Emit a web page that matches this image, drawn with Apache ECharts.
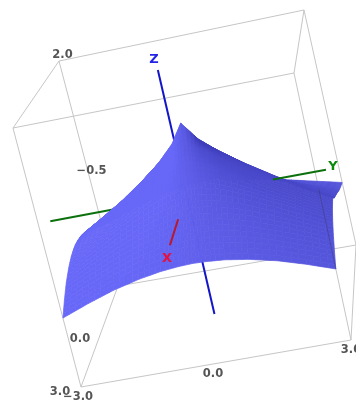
<!DOCTYPE html>
<html>
<head>
<meta charset="utf-8">
<style>html,body{margin:0;background:#fff}#main{width:356px;height:404px}</style>
<script src="https://cdn.jsdelivr.net/npm/echarts@6/dist/echarts.min.js"></script>
</head>
<body>
<div id="main"></div>
<script>
// grid the surface was read on
var xValues = [-3, -2.4, -1.8, -1.2, -0.7, -0.3, 0, 0.3, 0.7, 1.2, 1.8, 2.4, 3];
var yValues = [-3, -2.4, -1.8, -1.2, -0.7, -0.3, 0, 0.3, 0.7, 1.2, 1.8, 2.4, 3];
var zRows = [
  [-1.67,-1.49,-1.33,-1.21,-1.14,-1.11,-1.10,-1.20,-1.25,-1.32,-1.43,-1.55,-1.67],
  [-1.49,-1.29,-1.10,-0.94,-0.85,-0.81,-0.80,-0.95,-1.02,-1.12,-1.28,-1.45,-1.58],
  [-1.33,-1.10,-0.88,-0.68,-0.56,-0.50,-0.48,-0.62,-0.70,-0.86,-1.08,-1.30,-1.48],
  [-1.21,-0.94,-0.68,-0.43,-0.25,-0.16,-0.13,-0.24,-0.36,-0.60,-0.88,-1.14,-1.36],
  [-1.14,-0.85,-0.56,-0.25, 0.00, 0.15, 0.19, 0.10,-0.08,-0.38,-0.72,-1.02,-1.27],
  [-1.11,-0.81,-0.50,-0.16, 0.15, 0.40, 0.51, 0.37, 0.10,-0.24,-0.60,-0.92,-1.20],
  [-1.10,-0.80,-0.48,-0.13, 0.19, 0.51, 0.88, 0.51, 0.19,-0.13,-0.48,-0.80,-1.10],
  [-1.11,-0.81,-0.50,-0.16, 0.15, 0.40, 0.51, 0.40, 0.15,-0.16,-0.50,-0.81,-1.11],
  [-1.14,-0.85,-0.56,-0.25, 0.00, 0.15, 0.19, 0.15, 0.00,-0.25,-0.56,-0.85,-1.14],
  [-1.21,-0.94,-0.68,-0.43,-0.25,-0.16,-0.13,-0.16,-0.25,-0.43,-0.68,-0.94,-1.21],
  [-1.33,-1.10,-0.88,-0.68,-0.56,-0.50,-0.48,-0.50,-0.56,-0.68,-0.88,-1.10,-1.33],
  [-1.49,-1.29,-1.10,-0.94,-0.85,-0.81,-0.80,-0.81,-0.85,-0.94,-1.10,-1.29,-1.49],
  [-1.67,-1.49,-1.33,-1.21,-1.14,-1.11,-1.10,-1.11,-1.14,-1.21,-1.33,-1.49,-1.67]
];
var xRange = [-3, 3], yRange = [-3, 3], zRange = [-3, 2];

// box edges, everything below is in data units
var backEdges = [
  [[-3,-3,2],[-3,3,2]], [[3,-3,2],[3,3,2]], [[-3,-3,2],[3,-3,2]], [[-3,3,2],[3,3,2]],
  [[-3,-3,2],[-3,-3,-3]], [[-3,3,2],[-3,3,-3]], [[3,-3,2],[3,-3,-3]], [[3,3,2],[3,3,-3]],
  [[-3,3,-3],[3,3,-3]], [[-3,-3,-3],[-3,3,-3]], [[3,-3,-3],[3,3,-3]], [[-3,-3,-3],[3,-3,-3]]
];
var overSurfaceEdges = [[[3,3,-0.17],[3,3,-1.67]]];
var zAxisLine = [[0,-0.22,2],[0,-0.27,-2.95]];
var yAxisLeft = [[0,-3.42,-0.55],[0,-1.5,-0.55]];
var yAxisRight = [[0,1.75,-0.55],[0,2.98,-0.55]];
var xAxisLine = [[1.7,-0.28,-0.55],[3.6,-0.28,-0.55]];

var tickLabels = [
  {text:'2.0', at:[-3,-3,2], off:[3.5,-6]},
  {text:'\u22120.5', at:[-3,-3,-0.5], off:[3,-2.5]},
  {text:'\u22123.0', at:[-3,-3,-3], off:[-21,4]},
  {text:'\u22123.0', at:[-3,-3,-3], off:[-1,-5]},
  {text:'0.0', at:[0,-3,-3], off:[-19.5,3]},
  {text:'3.0', at:[3,-3,-3], off:[-21,5]},
  {text:'\u22123.0', at:[3,-3,-3], off:[-3,10]},
  {text:'0.0', at:[3,0,-3], off:[-3,10.5]},
  {text:'3.0', at:[3,3,-3], off:[0,10]}
];
var axisNames = [
  {text:'Z', at:[0,-0.22,2], off:[-4,-10], color:'#2424e8'},
  {text:'Y', at:[0,2.98,-0.55], off:[7,-3], color:'#0a8a0a'},
  {text:'X', at:[3.6,-0.28,-0.55], off:[-3,13], color:'#e8103c'}
];

// where the box corners land in the 356x404 window
var cornerPx = {
  '-3,-3,2':[59,61], '-3,3,2':[304,10], '3,-3,2':[13,128], '3,3,2':[294,73],
  '-3,-3,-3':[118,286], '-3,3,-3':[356,245], '3,-3,-3':[81,387], '3,3,-3':[351,340]
};
var cellSplit = 4;

function project(p) {
  var u = (p[0] - xRange[0]) / (xRange[1] - xRange[0]);
  var v = (p[1] - yRange[0]) / (yRange[1] - yRange[0]);
  var w = (p[2] - zRange[0]) / (zRange[1] - zRange[0]);
  var out = [0, 0];
  [[-3,1-u],[3,u]].forEach(function (a) {
    [[-3,1-v],[3,v]].forEach(function (b) {
      [[-3,1-w],[2,w]].forEach(function (c) {
        var k = a[1] * b[1] * c[1], px = cornerPx[a[0] + ',' + b[0] + ',' + c[0]];
        out[0] += k * px[0];
        out[1] += k * px[1];
      });
    });
  });
  return out;
}

// light at each grid point, from the slopes of its neighbours
function pointShade(i, j) {
  var i0 = Math.max(i - 1, 0), i1 = Math.min(i + 1, xValues.length - 1);
  var j0 = Math.max(j - 1, 0), j1 = Math.min(j + 1, yValues.length - 1);
  var dzdx = (zRows[i1][j] - zRows[i0][j]) / (xValues[i1] - xValues[i0]);
  var dzdy = (zRows[i][j1] - zRows[i][j0]) / (yValues[j1] - yValues[j0]);
  return (-dzdx * 0.25 + dzdy * 0.6 + 0.75) / Math.sqrt(dzdx * dzdx + dzdy * dzdy + 1);
}

function shadeColor(s) {
  var t = Math.max(0, Math.min(1, (s - 0.2) / 0.7));
  var r = Math.round(62 + t * 42), b = Math.round(186 + t * 62);
  return 'rgb(' + r + ',' + r + ',' + b + ')';
}

function bilinear(a, b, c, d, s, t) {
  return (a * (1 - t) + d * t) * (1 - s) + (b * (1 - t) + c * t) * s;
}

// each grid cell is cut into small flat pieces so the light runs smoothly, back pieces first
var cells = [];
for (var i = 0; i < xValues.length - 1; i++) {
  for (var j = 0; j < yValues.length - 1; j++) {
    var z00 = zRows[i][j], z10 = zRows[i + 1][j], z11 = zRows[i + 1][j + 1], z01 = zRows[i][j + 1];
    var s00 = pointShade(i, j), s10 = pointShade(i + 1, j), s11 = pointShade(i + 1, j + 1), s01 = pointShade(i, j + 1);
    var dx = xValues[i + 1] - xValues[i], dy = yValues[j + 1] - yValues[j];
    for (var a = 0; a < cellSplit; a++) {
      for (var b = 0; b < cellSplit; b++) {
        var pts = [[a, b], [a + 1, b], [a + 1, b + 1], [a, b + 1]].map(function (q) {
          var s = q[0] / cellSplit, t = q[1] / cellSplit;
          return [xValues[i] + dx * s, yValues[j] + dy * t, bilinear(z00, z10, z11, z01, s, t)];
        });
        var midS = (a + 0.5) / cellSplit, midT = (b + 0.5) / cellSplit;
        var midX = xValues[i] + dx * midS, midY = yValues[j] + dy * midT;
        var midZ = bilinear(z00, z10, z11, z01, midS, midT);
        cells.push({
          pts: pts,
          color: shadeColor(bilinear(s00, s10, s11, s01, midS, midT)),
          depth: midX * 0.75 + midZ * 0.6 + midY * 0.05
        });
      }
    }
  }
}
cells.sort(function (p, q) { return p.depth - q.depth; });

function lineSeries(name, segments, color, width, z) {
  return {
    name: name, type: 'custom', coordinateSystem: 'cartesian2d', z: z, silent: true, clip: false,
    data: segments.map(function (s, k) { return [k]; }),
    renderItem: function (params, api) {
      var seg = segments[params.dataIndex];
      var a = api.coord(project(seg[0])), b = api.coord(project(seg[1]));
      return {
        type: 'line',
        shape: {x1: a[0], y1: a[1], x2: b[0], y2: b[1]},
        style: {stroke: color, lineWidth: width, fill: null}
      };
    }
  };
}

function textSeries(name, items, font, color, z) {
  return {
    name: name, type: 'custom', coordinateSystem: 'cartesian2d', z: z, silent: true, clip: false,
    data: items.map(function (s, k) { return [k]; }),
    renderItem: function (params, api) {
      var it = items[params.dataIndex];
      var c = api.coord(project(it.at));
      return {
        type: 'text',
        style: {
          x: c[0] + it.off[0], y: c[1] + it.off[1], text: it.text, font: font,
          fill: it.color || color, align: 'center', verticalAlign: 'middle'
        }
      };
    }
  };
}

var myChart = echarts.init(document.getElementById('main'));
myChart.setOption({
  animation: false,
  backgroundColor: '#fff',
  grid: {left: 0, right: 0, top: 0, bottom: 0},
  xAxis: {type: 'value', min: 0, max: 356, show: false},
  yAxis: {type: 'value', min: 0, max: 404, inverse: true, show: false},
  series: [
    lineSeries('box', backEdges, '#c6c6c6', 1, 1),
    textSeries('ticks', tickLabels, 'bold 11.5px "DejaVu Sans"', '#555555', 2),
    lineSeries('z axis', [zAxisLine], '#1414c8', 2, 3),
    lineSeries('y axis left', [yAxisLeft], '#0c700c', 2, 3),
    {
      name: 'surface', type: 'custom', coordinateSystem: 'cartesian2d', z: 5, silent: true, clip: false,
      progressive: 0,
      data: cells.map(function (c, k) { return [k]; }),
      renderItem: function (params, api) {
        var c = cells[params.dataIndex];
        return {
          type: 'polygon',
          shape: {points: c.pts.map(function (p) { return api.coord(project(p)); })},
          style: {fill: c.color, stroke: c.color, lineWidth: 0.7}
        };
      }
    },
    lineSeries('box over surface', overSurfaceEdges, 'rgba(60,60,110,0.5)', 1, 7),
    lineSeries('x axis', [xAxisLine], '#b8182c', 2, 8),
    lineSeries('y axis right', [yAxisRight], '#0c700c', 2, 8),
    textSeries('axis names', axisNames, 'bold 13px "DejaVu Sans"', '#000', 9)
  ]
});
</script>
</body>
</html>
